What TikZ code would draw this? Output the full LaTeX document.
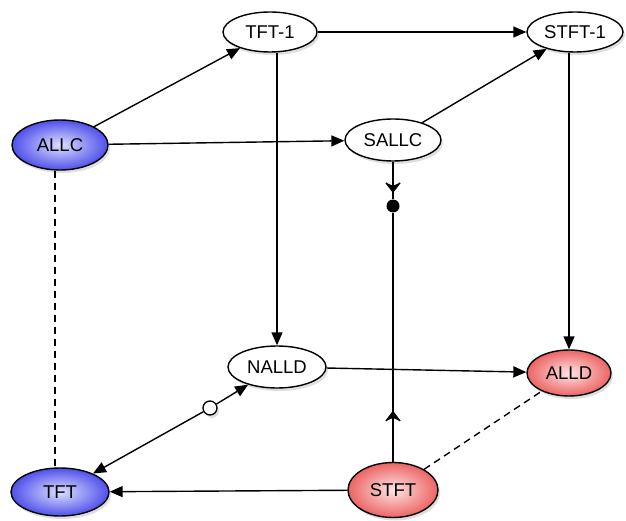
\documentclass[tikz,border=0pt]{standalone}
\usepackage{fontspec}
\setmainfont{Liberation Sans}
\usetikzlibrary{arrows.meta,shadows,decorations.markings,shapes.geometric}
\definecolor{blueedge}{RGB}{80,80,235}
\definecolor{bluecenter}{RGB}{220,224,255}
\definecolor{rededge}{RGB}{236,100,100}
\definecolor{redcenter}{RGB}{255,228,228}
\begin{document}
\begin{tikzpicture}[x=1pt,y=-1pt,
  state/.style={ellipse,draw=black,line width=1.4pt,inner sep=0pt,
    font=\fontsize{18.5}{21}\selectfont,fill=white,
    drop shadow={shadow xshift=2pt,shadow yshift=-3pt,opacity=0.25}},
  bluest/.style={state,inner color=bluecenter,outer color=blueedge},
  redst/.style={state,inner color=redcenter,outer color=rededge},
  conn/.style={line width=1.4pt,-{Triangle[length=13pt,width=11pt]}},
  plainline/.style={line width=1.4pt},
  dashline/.style={line width=1.4pt,dash pattern=on 7pt off 5pt},
  midvee/.style={decoration={markings,mark=at position #1 with {
     \fill (1pt,0pt) -- (-9pt,7pt) -- (-6pt,0pt) -- (-9pt,-7pt) -- cycle;
     \draw[line width=1.4pt,line join=miter] (-9pt,7pt) -- (0pt,0pt) -- (-9pt,-7pt);}},postaction={decorate}}
]
\useasboundingbox (0,0) rectangle (626,521);
\node[state,minimum width=94pt,minimum height=40pt] (tft1) at (270,32) {TFT-1};
\node[state,minimum width=96pt,minimum height=40pt] (stft1) at (575,32) {STFT-1};
\node[bluest,minimum width=96pt,minimum height=50pt] (allc) at (60,145) {ALLC};
\node[state,minimum width=96pt,minimum height=42pt] (sallc) at (393,140) {SALLC};
\node[state,minimum width=98pt,minimum height=42pt] (nalld) at (277,367) {NALLD};
\node[redst,minimum width=84pt,minimum height=46pt] (alld) at (569,373) {ALLD};
\node[bluest,minimum width=98pt,minimum height=48pt] (tft) at (60,492) {TFT};
\node[redst,minimum width=90pt,minimum height=55pt] (stft) at (393,490) {STFT};
\node[circle,fill=black,inner sep=0pt,minimum size=13pt] (dot) at (393,206) {};
\node[circle,draw=black,fill=white,line width=1.3pt,inner sep=0pt,minimum size=14pt,
  drop shadow={shadow xshift=2pt,shadow yshift=-3pt,opacity=0.25}] (odot) at (210,408) {};
% connectors
\draw[conn] (allc) -- (tft1);
\draw[conn] (tft1) -- (stft1);
\draw[conn] (allc) -- (sallc);
\draw[conn] (sallc) -- (stft1);
\draw[conn] (tft1.south -| nalld.north) -- (nalld.north);
\draw[conn] (stft1.south -| alld.north) -- (alld.north);
\draw[conn] (nalld) -- (alld);
\draw[conn] (stft) -- (tft);
\draw[plainline,midvee=0.8] (sallc) -- (dot);
\draw[plainline,midvee=0.2] (stft) -- (dot);
\draw[conn] (odot) -- (nalld);
\draw[conn] (odot) -- (tft);
\draw[dashline] (allc.south -| 55,0) -- (tft.north -| 55,0);
\draw[dashline] (stft) -- (alld);
\end{tikzpicture}
\end{document}
